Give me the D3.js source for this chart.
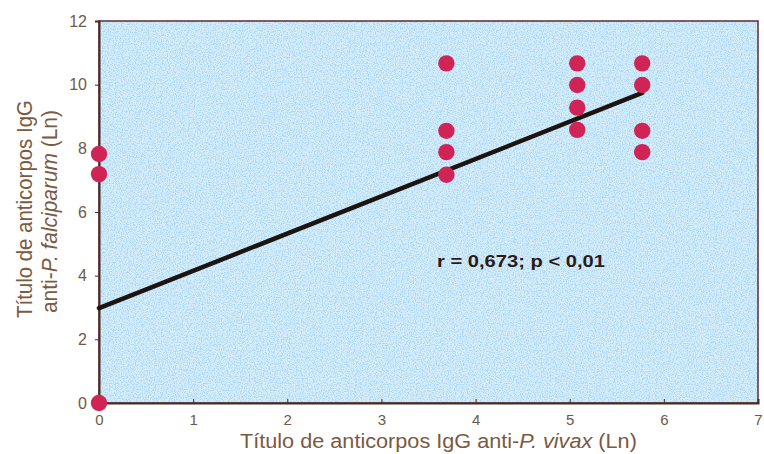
<!DOCTYPE html>
<html>
<head>
<meta charset="utf-8">
<script src="https://cdn.jsdelivr.net/npm/d3@7"></script>
<style>
  body { margin: 0; background: #fff; }
  svg { display: block; font-family: "Liberation Sans", Arial, sans-serif; }
</style>
</head>
<body>
<svg id="chart" width="764" height="454"></svg>
<script>
// anticorpos IgG: vivax (x) vs falciparum (y), Ln
var vivax      = [0, 0, 0, 3.69, 3.69, 3.69, 3.69, 5.08, 5.08, 5.08, 5.08, 5.77, 5.77, 5.77, 5.77];
var falciparum = [7.82, 7.19, 0, 10.67, 8.55, 7.88, 7.17, 10.67, 9.99, 9.28, 8.58, 10.67, 9.99, 8.55, 7.88];
var xTicks = [0, 1, 2, 3, 4, 5, 6, 7];
var yTicks = [0, 2, 4, 6, 8, 10, 12];
var fitLine = [[0, 2.98], [5.77, 9.74]];

var svg = d3.select("#chart");
var margin = {left: 99, right: 5, top: 21, bottom: 51};
var w = 764 - margin.left - margin.right;
var h = 454 - margin.top - margin.bottom;

var x = d3.scaleLinear().domain([0, 7]).range([0, 659]);
var y = d3.scaleLinear().domain([0, 12]).range([h, 0]);

// stippled blue background
var defs = svg.append("defs");
var f = defs.append("filter").attr("id", "stipple").attr("x", 0).attr("y", 0).attr("width", 1).attr("height", 1);
f.append("feTurbulence").attr("type", "fractalNoise").attr("baseFrequency", 0.85).attr("numOctaves", 2).attr("seed", 3).attr("result", "n");
f.append("feColorMatrix").attr("in", "n").attr("type", "matrix")
  .attr("values", "0 0 0 0 0.42  0 0 0 0 0.68  0 0 0 0 0.92  4 0 0 0 -1.75").attr("result", "dots");
f.append("feFlood").attr("flood-color", "#d4edf8").attr("result", "bg");
f.append("feComposite").attr("in", "dots").attr("in2", "bg").attr("operator", "over");

var g = svg.append("g").attr("transform", "translate(" + margin.left + "," + margin.top + ")");

g.append("rect").attr("width", 659).attr("height", h).attr("fill", "#cfe9f5").attr("filter", "url(#stipple)");

// frame
g.append("rect").attr("width", 659).attr("height", h).attr("fill", "none")
  .attr("stroke", "#5b2b33").attr("stroke-width", 1.5);

var xAxis = g.append("g").attr("transform", "translate(0," + h + ")")
  .call(d3.axisBottom(x).tickValues(xTicks).tickFormat(d3.format("d")).tickSize(-4).tickPadding(11));
var yAxis = g.append("g")
  .call(d3.axisLeft(y).tickValues(yTicks).tickFormat(d3.format("d")).tickSize(4).tickPadding(8));
[xAxis, yAxis].forEach(function(a) {
  a.select(".domain").attr("stroke", "#4a2a22").attr("stroke-width", 2);
  a.selectAll(".tick line").attr("stroke", "#4a2a22");
  a.selectAll(".tick text").attr("fill", "#6e5a4a").attr("font-size", "15px");
});
yAxis.selectAll(".tick text").attr("font-size", "16px");

// regression line
g.append("line")
  .attr("x1", x(fitLine[0][0])).attr("y1", y(fitLine[0][1]))
  .attr("x2", x(fitLine[1][0])).attr("y2", y(fitLine[1][1]))
  .attr("stroke", "#1c1410").attr("stroke-width", 4.5).attr("stroke-linecap", "round");

g.selectAll("circle.pt").data(vivax).enter().append("circle")
  .attr("class", "pt")
  .attr("cx", function(d) { return x(d); })
  .attr("cy", function(d, i) { return y(falciparum[i]); })
  .attr("r", 8.2)
  .attr("fill", "#d02456");

g.append("text").attr("x", 338).attr("y", 246)
  .attr("font-size", "17px").attr("font-weight", "bold").attr("fill", "#2b1a18")
  .attr("textLength", 168).attr("lengthAdjust", "spacingAndGlyphs")
  .text("r = 0,673; p < 0,01");

// axis titles: original uses a narrow face, so fit each to its width
function squeeze(sel, width) {
  var tw = sel.node().getComputedTextLength();
  sel.attr("transform", "scale(" + (width / tw) + ",1)");
}

var xg = svg.append("g").attr("transform", "translate(240,448)");
var xt = xg.append("text").attr("font-size", "21px").attr("fill", "#7a5a42");
xt.append("tspan").text("Título de anticorpos IgG anti-");
xt.append("tspan").attr("font-style", "italic").text("P. vivax");
xt.append("tspan").text("  (Ln)");
squeeze(xt, 397);

var yg1 = svg.append("g").attr("transform", "translate(32,318) rotate(-90)");
var yt1 = yg1.append("text").attr("font-size", "22px").attr("fill", "#7a5a42")
  .text("Título de anticorpos IgG");
squeeze(yt1, 218);

var yg2 = svg.append("g").attr("transform", "translate(57,313) rotate(-90)");
var yt2 = yg2.append("text").attr("font-size", "22px").attr("fill", "#7a5a42");
yt2.append("tspan").text("anti-");
yt2.append("tspan").attr("font-style", "italic").text("P. falciparum");
yt2.append("tspan").text("  (Ln)");
squeeze(yt2, 203);
</script>
</body>
</html>
